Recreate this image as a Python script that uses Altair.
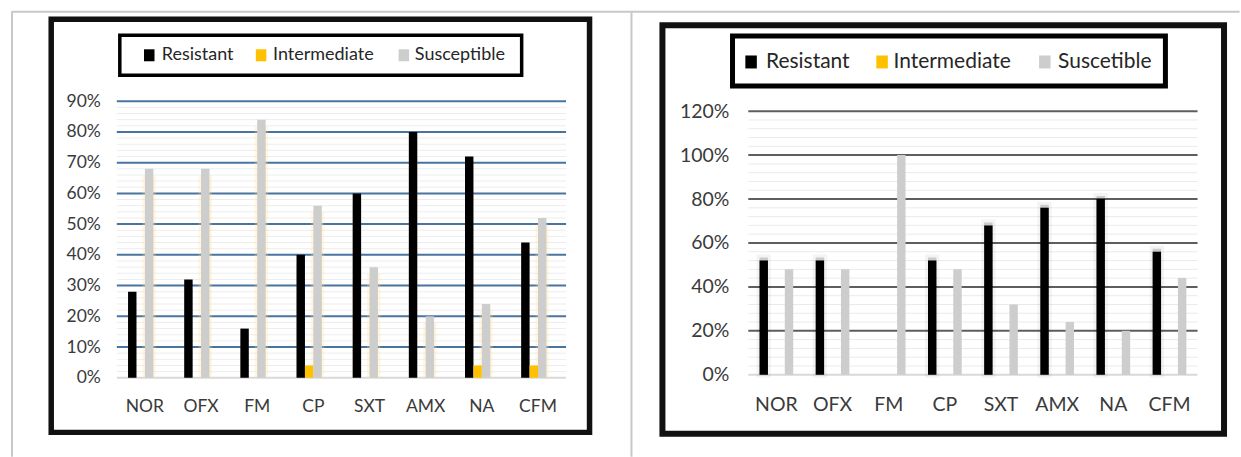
import altair as alt
import pandas as pd

categories = ["NOR", "OFX", "FM", "CP", "SXT", "AMX", "NA", "CFM"]
left_series = ["Resistant", "Intermediate", "Susceptible"]
right_series = ["Resistant", "Intermediate", "Suscetible"]
series_colors = ["#000000", "#FFC000", "#CDCDCD"]

left_resistant = [0.28, 0.32, 0.16, 0.40, 0.60, 0.80, 0.72, 0.44]
left_intermediate = [0.0, 0.0, 0.0, 0.04, 0.0, 0.0, 0.04, 0.04]
left_susceptible = [0.68, 0.68, 0.84, 0.56, 0.36, 0.20, 0.24, 0.52]

right_resistant = [0.52, 0.52, 0.0, 0.52, 0.68, 0.76, 0.80, 0.56]
right_intermediate = [0.0, 0.0, 0.0, 0.0, 0.0, 0.0, 0.0, 0.0]
right_susceptible = [0.48, 0.48, 1.00, 0.48, 0.32, 0.24, 0.20, 0.44]

left_ticks = [0.0, 0.1, 0.2, 0.3, 0.4, 0.5, 0.6, 0.7, 0.8, 0.9]
right_ticks = [0.0, 0.2, 0.4, 0.6, 0.8, 1.0, 1.2]
left_minor = [i / 100 for i in range(2, 90, 2) if i % 10]
right_minor = [i / 100 for i in range(4, 120, 4) if i % 20]

FONT = "Lato"


def long_table(series, cols):
    rows = []
    for s, vals in zip(series, cols):
        for c, v in zip(categories, vals):
            rows.append({"category": c, "series": s, "value": v})
    return pd.DataFrame(rows)


def one():
    return pd.DataFrame({"k": [0]})


def deco_rect(x, x2, y, y2, **kw):
    return alt.Chart(one()).mark_rect(**kw).encode(
        x=alt.value(x), x2=alt.value(x2), y=alt.value(y), y2=alt.value(y2))


def deco_rule(x, x2, y, y2, **kw):
    return alt.Chart(one()).mark_rule(**kw).encode(
        x=alt.value(x), x2=alt.value(x2), y=alt.value(y), y2=alt.value(y2))


def panel(series, cols, ticks, minor, yscale, major_color, major_w, minor_color,
          axis_fs, ypad, xpad, legend, legend_fs, sq_w, sq_h, frame, left_style):
    df = long_table(series, cols)
    base = alt.Chart(df)
    xenc = alt.X("category:N", sort=categories,
                 scale=alt.Scale(paddingInner=0.4, paddingOuter=0.2),
                 axis=alt.Axis(title=None, labelAngle=0, domain=False, ticks=False, grid=False,
                               labelPadding=xpad, labelFont=FONT, labelFontSize=axis_fs,
                               labelColor="#3a3a3a", labelBaseline="middle", zindex=1))
    xoff = alt.XOffset("series:N", sort=series)
    yaxis = alt.Axis(values=ticks, format=".0%", title=None, grid=False,
                     domain=False, ticks=False, labelPadding=ypad, zindex=1,
                     labelFont=FONT, labelFontSize=axis_fs, labelColor="#3a3a3a")
    yenc = alt.Y("value:Q", scale=yscale, stack=None, axis=yaxis)
    color = alt.Color("series:N", scale=alt.Scale(domain=series, range=series_colors),
                      legend=None)

    minor_layer = alt.Chart(pd.DataFrame({"value": minor})).mark_rule(
        color=minor_color, strokeWidth=1).encode(y=yenc)
    major_layer = alt.Chart(pd.DataFrame({"value": ticks[1:]})).mark_rule(
        color=major_color, strokeWidth=major_w).encode(y=yenc)
    zero_layer = alt.Chart(pd.DataFrame({"value": ticks[:1]})).mark_rule(
        color="#D9D9D9", strokeWidth=2).encode(y=yenc)

    layers = [minor_layer, major_layer, zero_layer]
    if left_style:
        layers.append(base.transform_filter(alt.datum.series == series[0]).mark_bar(
            color="#E8A26E", opacity=0.35, xOffset=4, yOffset=9, clip=True).encode(
            x=xenc, xOffset=xoff, y=yenc))
        layers.append(base.transform_filter(alt.datum.series == series[2]).mark_bar(
            color="#FFE08A", opacity=0.5, stroke="#FFE08A", strokeWidth=5,
            strokeOpacity=0.5, yOffset=9, clip=True).encode(
            x=xenc, xOffset=xoff, y=yenc))
    else:
        layers.append(base.transform_filter(
            (alt.datum.series == series[0]) & (alt.datum.value > 0)).mark_bar(
            color="#000000", opacity=0.2, stroke="#000000", strokeWidth=6,
            strokeOpacity=0.2, yOffset=-3).encode(
            x=xenc, xOffset=xoff, y=yenc))
    bars = base.transform_filter(alt.datum.value > 0).mark_bar().encode(
        x=xenc, xOffset=xoff, y=yenc, color=color)
    layers.append(bars)

    # legend box and entries
    bx, bx2, by, by2, bw = legend["box"]
    layers.append(deco_rect(bx, bx2, by, by2, fill="white", stroke="#000000", strokeWidth=bw))
    for s, c, sx, tx in zip(series, series_colors, legend["sq"], legend["tx"]):
        layers.append(deco_rect(sx - sq_w / 2, sx + sq_w / 2, legend["y"] - sq_h / 2,
                                legend["y"] + sq_h / 2, color=c))
        layers.append(alt.Chart(one()).mark_text(
            align="left", baseline="middle", font=FONT, fontSize=legend_fs,
            color="#262626").encode(x=alt.value(tx), y=alt.value(legend["y"]),
                                    text=alt.value(s)))
    fx, fx2, fy, fy2, fw = frame
    layers.append(deco_rect(fx, fx2, fy, fy2, fillOpacity=0, stroke="#111111", strokeWidth=fw))
    return layers


# invisible rect giving the page its full extent, then the table's grey rules
left_layers = [deco_rect(-116.5, 1124.5, -101, 356, fill="white", opacity=0)]
left_layers += [
    deco_rule(-105.5, 1124.5, -89.5, -89.5, color="#C8C8C8", strokeWidth=2),
    deco_rule(-105, -105, -89.5, 356, color="#C8C8C8", strokeWidth=2),
    deco_rule(515.5, 515.5, -89.5, 356, color="#C8C8C8", strokeWidth=2),
]
left_layers += panel(
    left_series, [left_resistant, left_intermediate, left_susceptible],
    left_ticks, left_minor, alt.Scale(domain=[0, 0.9]),
    "#4A74A0", 2, "#EDEDED", 17.5, 16.5, 29,
    {"box": (3, 405.5, -66, -26, 3.5), "sq": [32.5, 144.5, 287.5],
     "tx": [45, 156.5, 298.5], "y": -46},
    18, 10.5, 12, (-65.7, 473.5, -82, 331.7, 5.5), True)

right_layers = panel(
    right_series, [right_resistant, right_intermediate, right_susceptible],
    right_ticks, right_minor, alt.Scale(domain=[0, 1.2], range=[274, 10]),
    "#5E5E5E", 2, "#EAEAEA", 19.5, 19.4, 27,
    {"box": (-15.8, 417.8, -65.2, -15.2, 5), "sq": [2.8, 134, 297],
     "tx": [17.7, 145.4, 310.3], "y": -39.3},
    21, 11.5, 13, (-86, 476.5, -76, 333.2, 6), False)

left = alt.layer(*left_layers).properties(width=450, height=277)
right = alt.layer(*right_layers).properties(width=450, height=277)

chart = alt.hconcat(left, right, spacing=182.5, bounds="flush").resolve_scale(
    color="independent").properties(padding=0).configure_view(stroke=None)

chart.save("out.html", embed_options={"renderer": "svg", "actions": False})
